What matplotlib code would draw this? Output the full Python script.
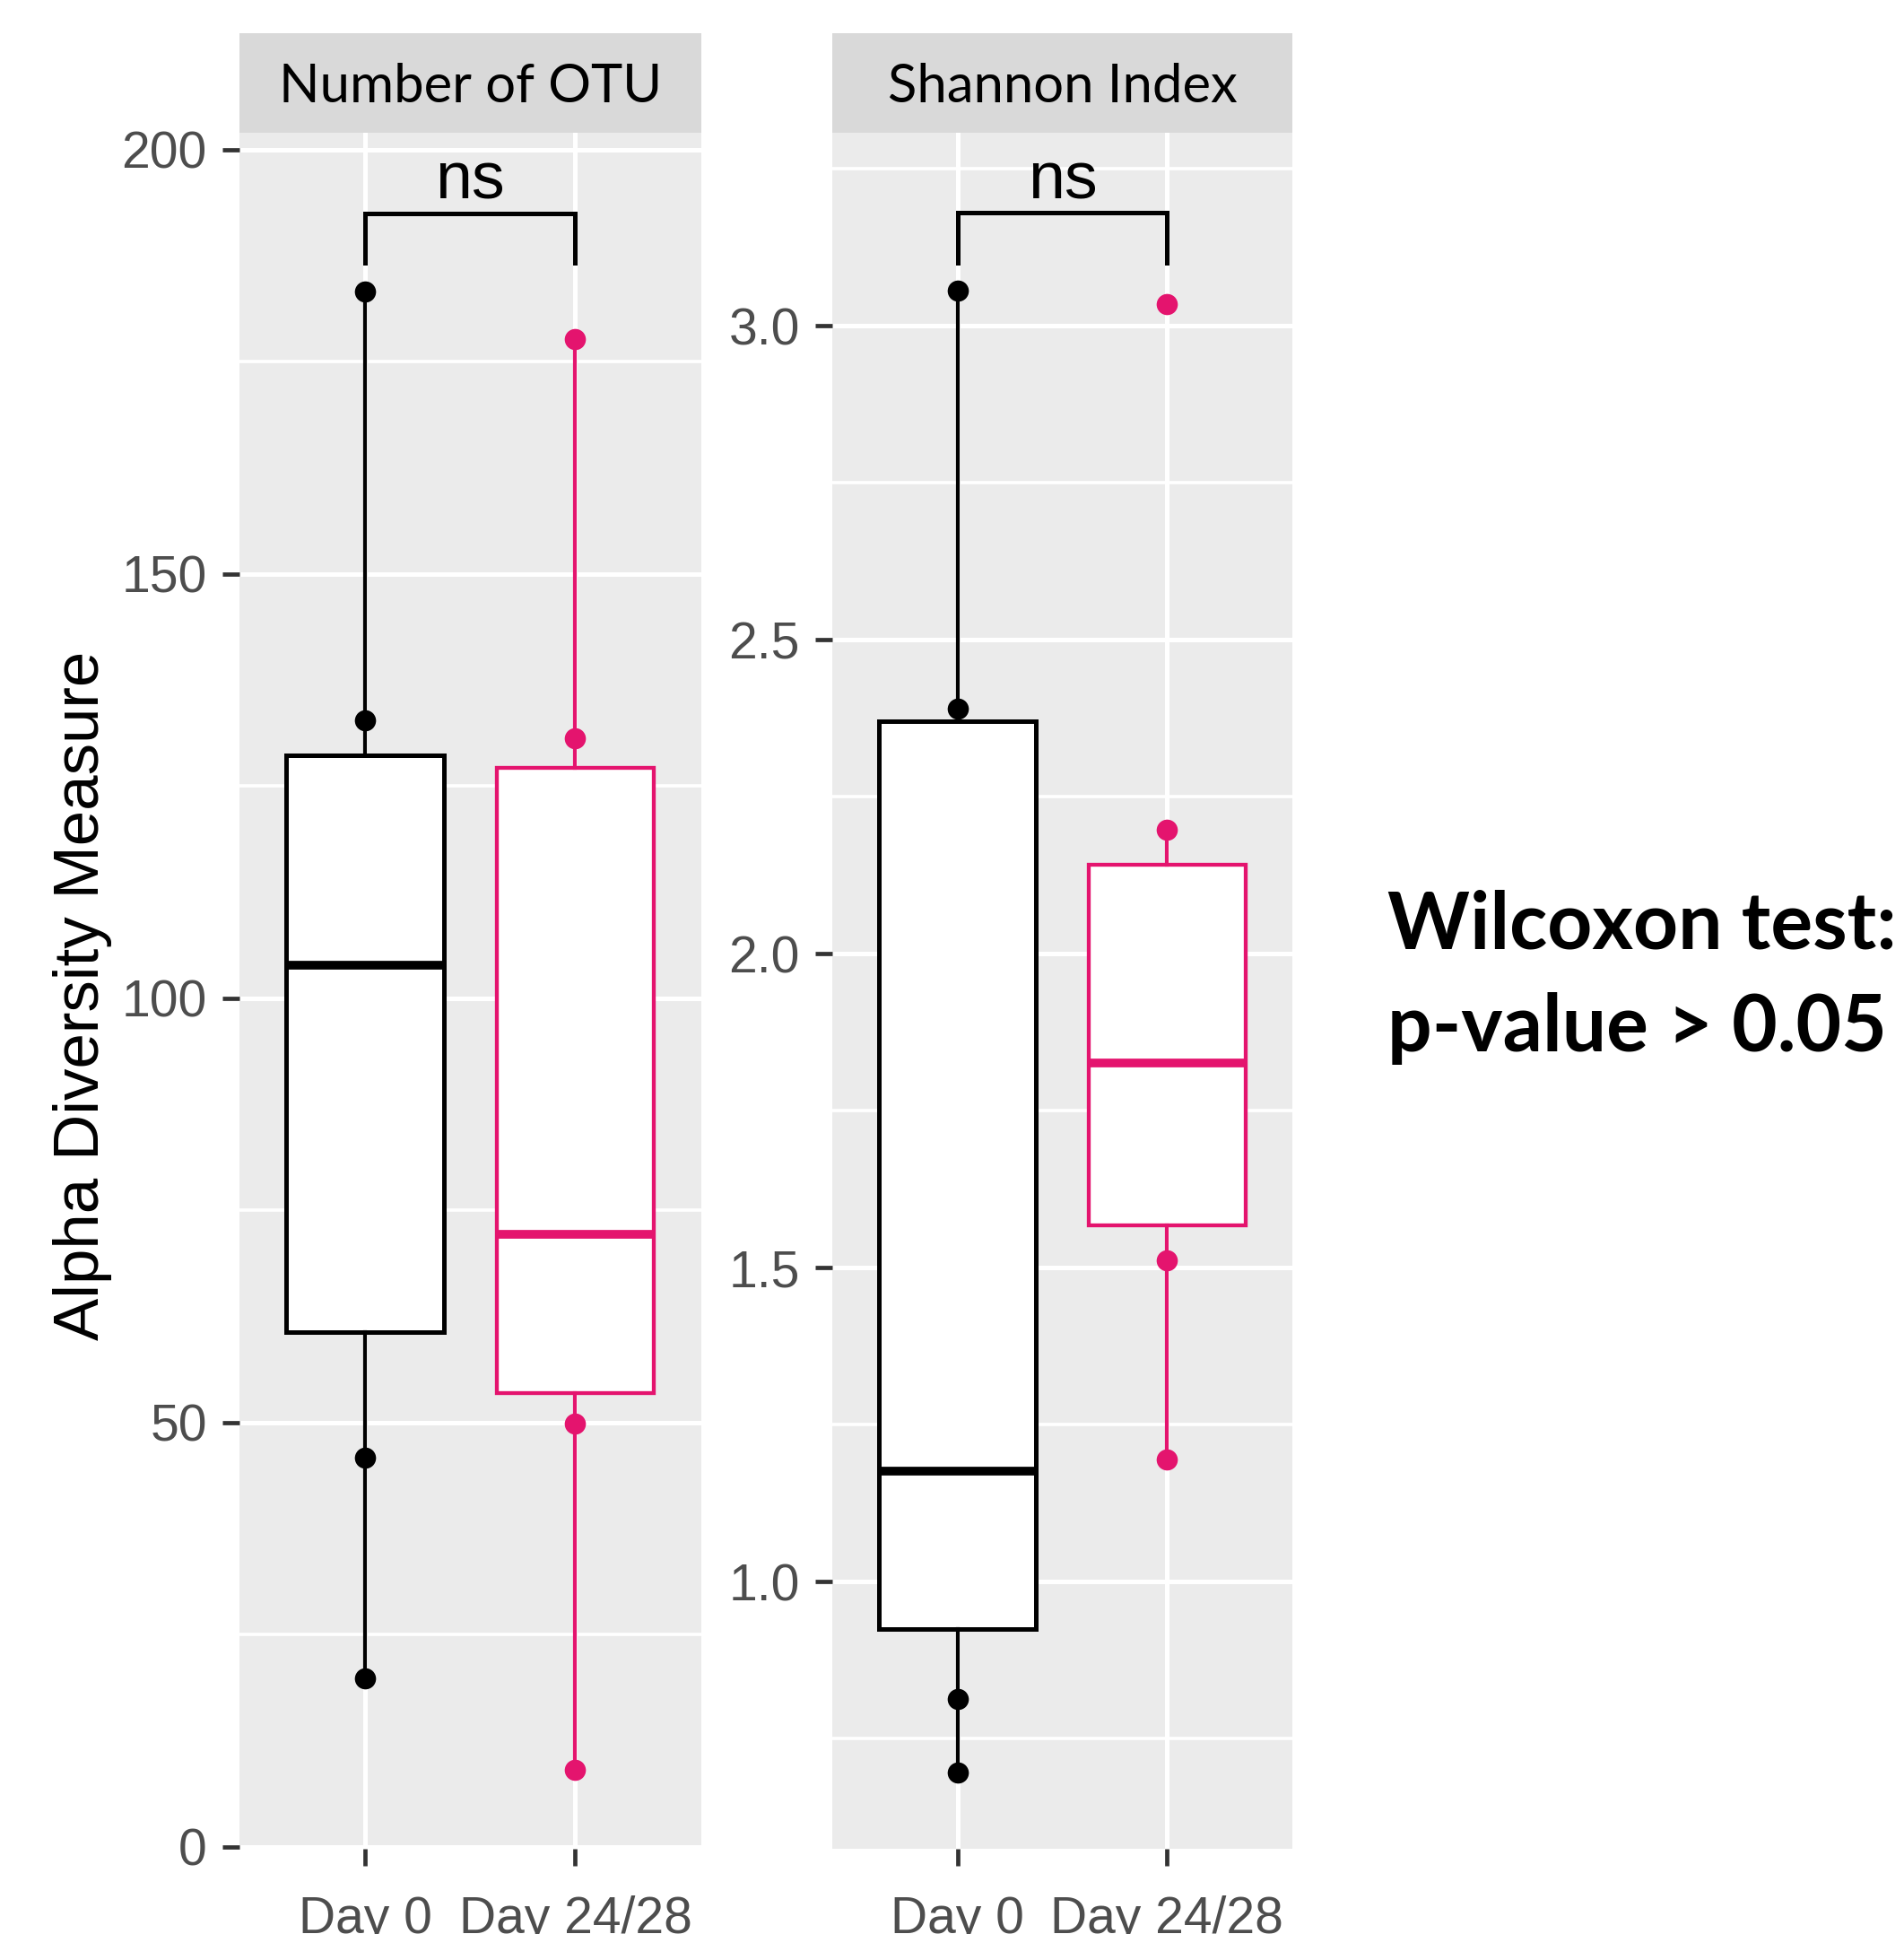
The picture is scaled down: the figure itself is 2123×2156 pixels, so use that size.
import matplotlib
matplotlib.use("Agg")
import matplotlib.pyplot as plt
from matplotlib.ticker import MultipleLocator, FormatStrFormatter

plt.rcParams['font.family'] = 'Liberation Sans'

# data
groups = ["Day 0", "Day 24/28"]
colors = ["#000000", "#E4146E"]

otu_q1 = [60.7, 53.5]
otu_med = [103.9, 72.2]
otu_q3 = [128.6, 127.1]
otu_lo = [19.8, 9.05]
otu_hi = [183.3, 177.7]
otu_points = [[183.3, 132.7, 45.9, 19.8], [177.7, 130.6, 49.9, 9.05]]

sha_q1 = [0.925, 1.568]
sha_med = [1.176, 1.826]
sha_q3 = [2.370, 2.142]
sha_lo = [0.696, 1.194]
sha_hi = [3.056, 2.197]
sha_points = [[3.056, 2.390, 0.813, 0.696], [3.034, 2.197, 1.512, 1.194]]

panel_titles = ["Number of OTU", "Shannon Index"]
ylabel = "Alpha Diversity Measure"
sig_label = "ns"
otu_bracket = (192.5, 186.6, 194.25)
sha_bracket = (3.180, 3.100, 3.203)
note_lines = ["Wilcoxon test:", "p-value > 0.05"]

W, H = 2123, 2156
fig = plt.figure(figsize=(W / 100, H / 100), dpi=100)


def fx(px):
    return px / W


def fy(py):
    return 1 - py / H


panel_top, panel_bot, strip_top = 147.7, 2060.7, 37.0
panels = [(266.8, 782.0), (928.0, 1441.0)]


def draw_panel(left, right, q1, med, q3, lo, hi, points, ylim, major, minor, fmt, bracket, title):
    ax = fig.add_axes([fx(left), fy(panel_bot), fx(right - left), (panel_bot - panel_top) / H])
    ax.set_facecolor('#EBEBEB')
    for s in ax.spines.values():
        s.set_visible(False)

    for i in range(2):
        c = colors[i]
        lw_box = 3.6 if i == 0 else 3.1
        stats = [dict(med=med[i], q1=q1[i], q3=q3[i], whislo=lo[i], whishi=hi[i], fliers=[])]
        ax.bxp(stats, positions=[i + 1], widths=0.75, patch_artist=True,
               showcaps=False, showfliers=False, manage_ticks=False,
               boxprops=dict(facecolor='white', edgecolor=c, linewidth=lw_box),
               medianprops=dict(color=c, linewidth=7.0),
               whiskerprops=dict(color=c, linewidth=3.0),
               zorder=3)
        ax.plot([i + 1] * len(points[i]), points[i], 'o', color=c, markersize=17,
                markeredgewidth=0, zorder=4)

    ytop, yleg, ytext = bracket
    ax.plot([1, 1, 2, 2], [yleg, ytop, ytop, yleg], color='black', linewidth=3.6,
            solid_joinstyle='miter', zorder=5)
    ax.text(1.5, ytext, sig_label, ha='center', va='baseline', fontsize=53, zorder=5)

    ax.set_xlim(0.4, 2.6)
    ax.set_ylim(*ylim)
    ax.yaxis.set_major_locator(MultipleLocator(major))
    ax.yaxis.set_minor_locator(MultipleLocator(minor))
    ax.yaxis.set_major_formatter(FormatStrFormatter(fmt))
    ax.set_xticks([1, 2])
    ax.set_xticklabels(groups)
    ax.grid(which='major', color='white', linewidth=3.6)
    ax.grid(which='minor', axis='y', color='white', linewidth=2.6)
    ax.set_axisbelow(True)
    ax.tick_params(which='major', length=13.5, width=3.4, color='#333333',
                   labelsize=41, labelcolor='#4D4D4D')
    ax.tick_params(axis='y', pad=12.5)
    ax.tick_params(axis='x', pad=24)
    ax.tick_params(which='minor', length=0)

    strip = fig.add_axes([fx(left), fy(panel_top), fx(right - left), (panel_top - strip_top) / H])
    strip.set_facecolor('#D9D9D9')
    strip.set_xticks([])
    strip.set_yticks([])
    for s in strip.spines.values():
        s.set_visible(False)
    strip.text(0.5, 0.30, title, ha='center', va='baseline', fontsize=43,
               family=['Lato', 'DejaVu Sans'], transform=strip.transAxes)
    return ax


draw_panel(*panels[0], otu_q1, otu_med, otu_q3, otu_lo, otu_hi, otu_points,
           (-0.2, 202.0), 50, 25, '%d', otu_bracket, panel_titles[0])
draw_panel(*panels[1], sha_q1, sha_med, sha_q3, sha_lo, sha_hi, sha_points,
           (0.575, 3.308), 0.5, 0.25, '%.1f', sha_bracket, panel_titles[1])

fig.text(fx(92), fy(1110), ylabel, rotation=90, ha='center', va='center', fontsize=51)

fig.text(fx(1547), fy(1058), note_lines[0], ha='left', va='baseline', fontsize=63,
         fontweight='bold', family=['Lato', 'DejaVu Sans'])
fig.text(fx(1547), fy(1172), note_lines[1], ha='left', va='baseline', fontsize=63,
         fontweight='bold', family=['Lato', 'DejaVu Sans'])

fig.savefig('out.png', dpi=100)
